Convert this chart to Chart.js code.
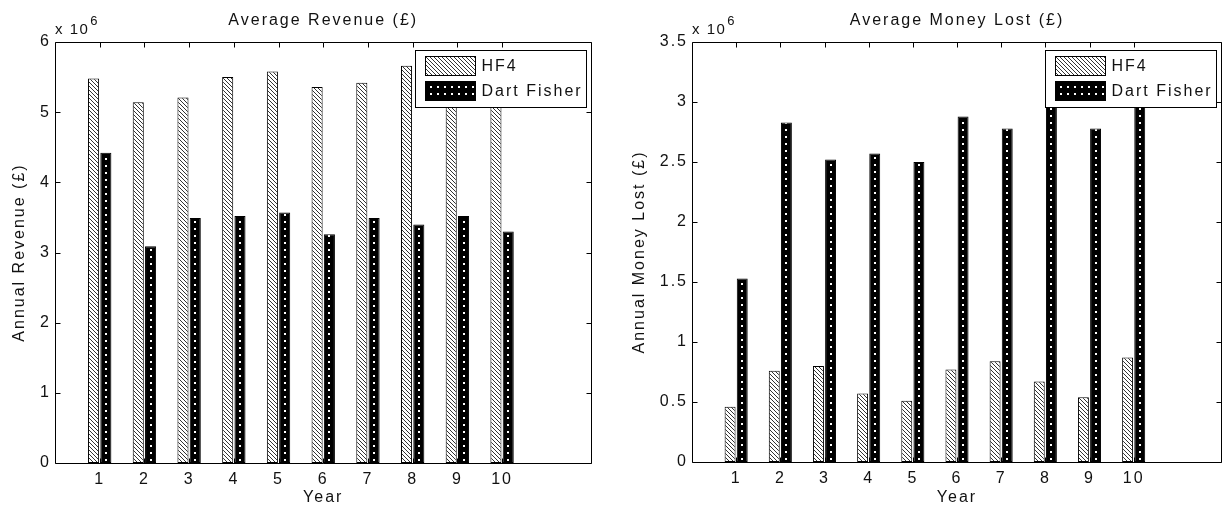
<!DOCTYPE html>
<html>
<head>
<meta charset="utf-8">
<script src="https://cdn.jsdelivr.net/npm/chart.js@4.4.1/dist/chart.umd.min.js"></script>
<style>
    html, body { margin: 0; padding: 0; background: #fff; }
    #wrap { position: relative; width: 1229px; height: 510px; }
    canvas { position: absolute; top: 0; }
    #revenueChart { left: 0; }
    #lostChart { left: 600px; }
</style>
</head>
<body>
<div id="wrap">
    <canvas id="revenueChart" width="600" height="510"></canvas>
    <canvas id="lostChart" width="629" height="510"></canvas>
</div>
<script>
// values (in £)
const years = [1, 2, 3, 4, 5, 6, 7, 8, 9, 10];
const seriesNames = ["HF4", "Dart Fisher"];

const revenueHF4 = [5.48e6, 5.14e6, 5.21e6, 5.50e6, 5.58e6, 5.36e6, 5.42e6, 5.66e6, 5.53e6, 5.47e6];
const revenueDart = [4.42e6, 3.09e6, 3.49e6, 3.52e6, 3.57e6, 3.26e6, 3.49e6, 3.40e6, 3.52e6, 3.30e6];

const lostHF4 = [0.46e6, 0.76e6, 0.80e6, 0.57e6, 0.51e6, 0.77e6, 0.84e6, 0.67e6, 0.54e6, 0.87e6];
const lostDart = [1.53e6, 2.83e6, 2.52e6, 2.57e6, 2.50e6, 2.88e6, 2.78e6, 2.97e6, 2.78e6, 3.02e6];

const revenueTitle = "Average Revenue (£)";
const revenueAxisTitle = "Annual Revenue (£)";
const lostTitle = "Average Money Lost (£)";
const lostAxisTitle = "Annual Money Lost (£)";
const xAxisTitle = "Year";
const multiplierBase = "x 10";
const multiplierExp = "6";

const FONT = "'Liberation Sans', Arial, sans-serif";
const LETTER_SPACING = "2px";
const CATEGORY_PCT = 0.55;
const BAR_PCT = 0.9;

Chart.defaults.font.family = FONT;
Chart.defaults.font.size = 16;
Chart.defaults.color = "#111";

function makeHatchTile() {
    const c = document.createElement("canvas");
    c.width = 4;
    c.height = 4;
    const g = c.getContext("2d");
    g.fillStyle = "#fff";
    g.fillRect(0, 0, 4, 4);
    g.fillStyle = "#333";
    for (let i = 0; i < 4; i++) g.fillRect(i, i, 1, 1);
    return c;
}

function makeDotTile() {
    const c = document.createElement("canvas");
    c.width = 7;
    c.height = 7;
    const g = c.getContext("2d");
    g.fillStyle = "#000";
    g.fillRect(0, 0, 7, 7);
    g.fillStyle = "#fff";
    g.fillRect(3, 3, 2, 2);
    return c;
}

const hatchTile = makeHatchTile();
const dotTile = makeDotTile();

// pattern lined up with each bar so the dots sit in the middle
function barFill(tile, side) {
    return (context) => {
        const chart = context.chart;
        const pattern = chart.ctx.createPattern(tile, "repeat");
        const xScale = chart.scales.x;
        if (!xScale || !context.raw || !chart.chartArea) return pattern;
        const step = xScale.getPixelForValue(2) - xScale.getPixelForValue(1);
        const center = xScale.getPixelForValue(context.raw.x) + side * step * CATEGORY_PCT / 4;
        const tx = Math.round(center - 1) - 3;
        pattern.setTransform(new DOMMatrix().translate(tx, Math.round(chart.chartArea.bottom)));
        return pattern;
    };
}

const matlabFrame = {
    id: "matlabFrame",
    beforeDraw(chart) {
        chart.ctx.letterSpacing = LETTER_SPACING;
    },
    afterDatasetsDraw(chart, args, opts) {
        const { ctx, chartArea: a, scales: { x, y } } = chart;
        const left = Math.round(a.left) + 0.5;
        const right = Math.round(a.right) - 0.5;
        const top = Math.round(a.top) + 0.5;
        const bottom = Math.round(a.bottom) + 0.5;

        ctx.save();
        ctx.strokeStyle = "#000";
        ctx.lineWidth = 1;
        ctx.beginPath();
        ctx.rect(left, top, right - left, bottom - top);
        y.ticks.forEach((t) => {
            const py = Math.round(y.getPixelForValue(t.value)) + 0.5;
            ctx.moveTo(left, py);
            ctx.lineTo(left + 5, py);
            ctx.moveTo(right, py);
            ctx.lineTo(right - 5, py);
        });
        years.forEach((v) => {
            const px = Math.round(x.getPixelForValue(v)) + 0.5;
            ctx.moveTo(px, bottom);
            ctx.lineTo(px, bottom - 5);
            ctx.moveTo(px, top);
            ctx.lineTo(px, top + 5);
        });
        ctx.stroke();

        // legend box in the top right corner
        ctx.font = `16px ${FONT}`;
        ctx.letterSpacing = LETTER_SPACING;
        const labels = chart.data.datasets.map((d) => d.label);
        const textW = Math.max(...labels.map((l) => ctx.measureText(l).width));
        const boxW = Math.round(10 + 50 + 6 + textW + 4);
        const boxH = 57;
        const bx = Math.round(a.right - 6 - boxW) + 0.5;
        const by = Math.round(a.top + 8) + 0.5;
        ctx.fillStyle = "#fff";
        ctx.fillRect(bx, by, boxW, boxH);
        ctx.strokeRect(bx, by, boxW, boxH);
        const tiles = [hatchTile, dotTile];
        labels.forEach((label, i) => {
            const sy = by + 6 + i * 25;
            const sx = bx + 10;
            const pattern = ctx.createPattern(tiles[i], "repeat");
            pattern.setTransform(new DOMMatrix().translate(Math.round(sx) + 1, Math.round(sy) + 1));
            ctx.fillStyle = pattern;
            ctx.fillRect(sx, sy, 50, 19);
            ctx.strokeRect(sx, sy, 50, 19);
            ctx.fillStyle = "#111";
            ctx.textAlign = "left";
            ctx.textBaseline = "middle";
            ctx.fillText(label, sx + 56, sy + 10);
        });

        // title and exponent
        ctx.fillStyle = "#111";
        ctx.textAlign = "center";
        ctx.textBaseline = "alphabetic";
        ctx.font = `16px ${FONT}`;
        ctx.fillText(opts.title, (a.left + a.right) / 2, 25);
        ctx.textAlign = "left";
        ctx.font = `15px ${FONT}`;
        ctx.letterSpacing = "1.5px";
        ctx.fillText(multiplierBase, a.left, 34);
        const mw = ctx.measureText(multiplierBase).width;
        ctx.font = `13px ${FONT}`;
        ctx.fillText(multiplierExp, a.left + mw + 1, 25);
        ctx.restore();
    }
};

function buildPanel(canvasId, config) {
    const canvas = document.getElementById(canvasId);
    return new Chart(canvas, {
        type: "bar",
        data: {
            datasets: [
                {
                    label: seriesNames[0],
                    data: years.map((yr, i) => ({ x: yr, y: config.hf4[i] })),
                    backgroundColor: barFill(hatchTile, -1),
                    borderColor: "#000",
                    borderWidth: 1,
                    borderSkipped: false,
                    categoryPercentage: CATEGORY_PCT,
                    barPercentage: BAR_PCT
                },
                {
                    label: seriesNames[1],
                    data: years.map((yr, i) => ({ x: yr, y: config.dart[i] })),
                    backgroundColor: barFill(dotTile, 1),
                    borderColor: "#000",
                    borderWidth: 1,
                    borderSkipped: false,
                    categoryPercentage: CATEGORY_PCT,
                    barPercentage: BAR_PCT
                }
            ]
        },
        options: {
            responsive: false,
            animation: false,
            events: [],
            layout: {
                padding: { top: 42, right: config.padRight, left: 0, bottom: 0 }
            },
            plugins: {
                legend: { display: false },
                tooltip: { enabled: false },
                matlabFrame: { title: config.title }
            },
            scales: {
                x: {
                    type: "linear",
                    min: 0,
                    max: 12,
                    offset: false,
                    grid: { display: false, drawTicks: false, offset: false },
                    border: { display: false },
                    ticks: {
                        stepSize: 1,
                        autoSkip: false,
                        maxRotation: 0,
                        padding: 7,
                        callback: (v) => (years.includes(v) ? String(v) : "")
                    },
                    title: {
                        display: true,
                        text: xAxisTitle,
                        font: { size: 16 },
                        padding: { top: 0, bottom: 3 }
                    },
                    afterFit: (scale) => {
                        scale.height = config.xHeight;
                    }
                },
                y: {
                    min: 0,
                    max: config.yMax,
                    grid: { display: false, drawTicks: false },
                    border: { display: false },
                    ticks: {
                        stepSize: config.yStep,
                        padding: 4,
                        callback: (v) => String(+(v / 1e6).toFixed(2))
                    },
                    title: {
                        display: true,
                        text: config.axisTitle,
                        font: { size: 16 },
                        padding: { top: config.yTitlePad, bottom: 0 }
                    },
                    afterFit: (scale) => {
                        scale.width = config.yWidth;
                    }
                }
            }
        },
        plugins: [matlabFrame]
    });
}

buildPanel("revenueChart", {
    hf4: revenueHF4,
    dart: revenueDart,
    title: revenueTitle,
    axisTitle: revenueAxisTitle,
    yMax: 6e6,
    yStep: 1e6,
    yWidth: 55,
    yTitlePad: 10,
    xHeight: 47,
    padRight: 8.5
});

buildPanel("lostChart", {
    hf4: lostHF4,
    dart: lostDart,
    title: lostTitle,
    axisTitle: lostAxisTitle,
    yMax: 3.5e6,
    yStep: 0.5e6,
    yWidth: 92,
    yTitlePad: 30,
    xHeight: 48,
    padRight: 1.5
});
</script>
</body>
</html>
